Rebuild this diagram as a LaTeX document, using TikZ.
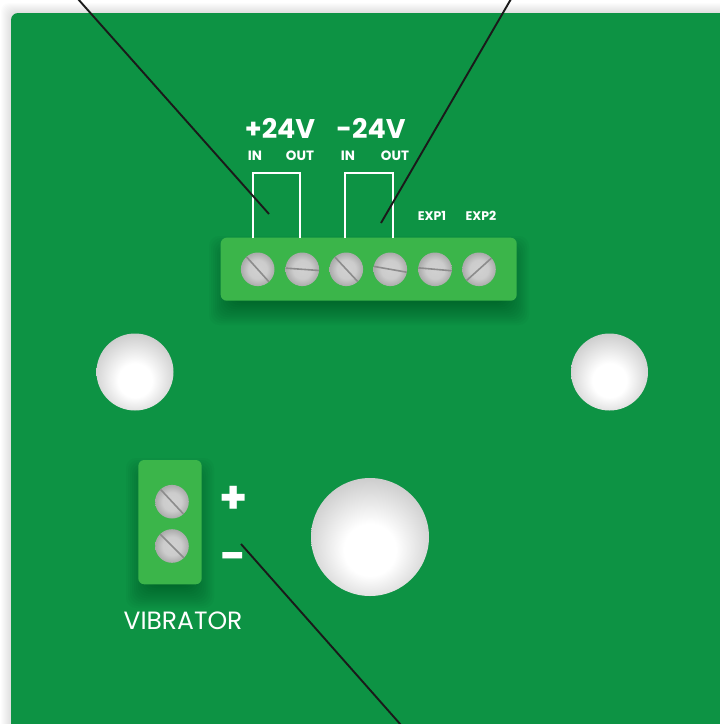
\documentclass[tikz,border=0pt]{standalone}
\usepackage{fontspec}
\setmainfont{Poppins}
\usetikzlibrary{positioning}
\definecolor{boardgreen}{HTML}{0D9344}
\definecolor{stripgreen}{HTML}{3BB54A}
\definecolor{leaderblack}{HTML}{1A1A1A}
\pgfdeclareradialshading{holeshade}{\pgfpoint{0bp}{-7bp}}{color(0bp)=(white);color(11bp)=(white);color(32bp)=(black!24);color(50bp)=(black!24)}
\pgfdeclareradialshading{screwshade}{\pgfpoint{0bp}{0bp}}{color(0bp)=(black!18);color(14bp)=(black!20);color(25bp)=(black!33);color(50bp)=(black!33)}
\tikzset{
  screw/.style={circle,inner sep=0pt,minimum size=33.6pt,shading=screwshade},
  hole/.style={circle,inner sep=0pt,shading=holeshade},
  slot/.style={color=black!45,line width=1.6pt},
  strip/.style={fill=stripgreen,rounded corners=6pt},
  wire/.style={draw=white,line width=2.2pt},
  leader/.style={draw=leaderblack,line width=1.9pt},
  bigtext/.style={text=white,font=\fontsize{27}{27}\selectfont\bfseries,inner sep=0pt},
  smalltext/.style={text=white,font=\fontsize{13.5}{14}\selectfont\bfseries,inner sep=0pt},
  exptext/.style={text=white,font=\fontsize{12.5}{13}\selectfont\bfseries,inner sep=0pt},
}
\begin{document}
\begin{tikzpicture}[x=1pt,y=-1pt]
\useasboundingbox (0,0) rectangle (720,724);
\fill[white] (0,0) rectangle (720,724);
\foreach \s in {1,2,...,10}{
  \fill[black,opacity=.012,rounded corners=8pt] (11-\s,13-\s) rectangle (760,764);
}
\clip (0,0) rectangle (720,724);
\fill[boardgreen,rounded corners=7pt] (11,13) rectangle (760,764);
\foreach \s in {1,2,...,12}{
  \fill[black,opacity=.022,rounded corners=10pt] (221+12-\s*2,238+22-\s*2) rectangle (517-12+\s*2,301+0+\s*2);
  \fill[black,opacity=.022,rounded corners=10pt] (138+12-\s*2,470+12-\s*2) rectangle (202-12+\s*2,584+0+\s*2);
}
\fill[strip] (220.7,237.7) rectangle (516.7,300.7);
\fill[strip] (138.3,460) rectangle (201.7,584.3);
\node[hole,minimum size=77pt] (holeleft) at (135,372) {};
\node[hole,minimum size=77pt] (holeright) at (609.5,372) {};
\node[hole,minimum size=118pt] (holecentre) at (370,537) {};
\foreach \n/\x/\a in {a/257.7/48,b/302.3/4,c/346.3/47,d/390.3/10,e/435/5,f/479/-42}{
  \node[screw] (screw\n) at (\x,269.3) {};
  \draw[slot] ([shift={(\a+180:16.8)}]screw\n.center) -- ([shift={(\a:16.8)}]screw\n.center);
}
\foreach \n/\y/\a in {g/501.7/47,h/546/45}{
  \node[screw] (screw\n) at (172,\y) {};
  \draw[slot] ([shift={(\a+180:16.8)}]screw\n.center) -- ([shift={(\a:16.8)}]screw\n.center);
}
\coordinate (wireainl) at (253.3,238);
\coordinate (wireaout) at (300,238);
\coordinate (wirebinl) at (345.3,238);
\coordinate (wirebout) at (392.7,238);
\draw[wire] (wireainl) |- (300,172.7) -- (wireaout);
\draw[wire] (wirebinl) |- (392.7,172.7) -- (wirebout);
\node[bigtext] (plusvolt) at (280,128) {+24V};
\node[bigtext] (minusvolt) at (371,128) {-24V};
\node[smalltext] (inA) at (255,156) {IN};
\node[smalltext] (outA) at (300,156) {OUT};
\node[smalltext] (inB) at (348,156) {IN};
\node[smalltext] (outB) at (395,156) {OUT};
\node[exptext] (expone) at (432,216) {EXP1};
\node[exptext] (exptwo) at (481,216) {EXP2};
\node[text=white,font=\fontsize{45}{45}\selectfont\bfseries,inner sep=0pt] (plus) at (234,500) {+};
\node[text=white,font=\fontsize{45}{45}\selectfont\bfseries,inner sep=0pt] (minus) at (234,562) {-};
\node[text=white,font=\fontsize{25}{25}\selectfont,inner sep=0pt] (vibrator) at (183,621) {VIBRATOR};
\coordinate (leadaout) at (78,-1);
\coordinate (leadain) at (269,214);
\coordinate (leadbout) at (511,-1);
\coordinate (leadbin) at (381,223);
\coordinate (leadcin) at (241,544);
\coordinate (leadcout) at (401,725);
\draw[leader] (leadaout) -- (leadain);
\draw[leader] (leadbout) -- (leadbin);
\draw[leader] (leadcin) -- (leadcout);
\end{tikzpicture}
\end{document}
